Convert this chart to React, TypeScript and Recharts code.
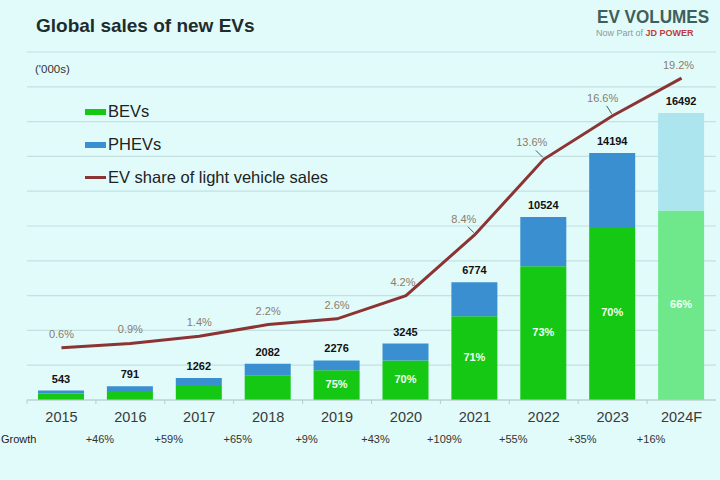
import React from 'react';
import {
  ComposedChart, Bar, Line, XAxis, YAxis, CartesianGrid, LabelList, Cell,
} from 'recharts';

// Sales in thousands, BEV share of each year's total, EV share of light vehicle sales
const years = ['2015', '2016', '2017', '2018', '2019', '2020', '2021', '2022', '2023', '2024F'];
const totalSales = [543, 791, 1262, 2082, 2276, 3245, 6774, 10524, 14194, 16492];
const bevShare = [70, 66, 68, 68, 75, 70, 71, 73, 70, 66];
const evShare = [0.6, 0.9, 1.4, 2.2, 2.6, 4.2, 8.4, 13.6, 16.6, 19.2];
const growth = ['', '+46%', '+59%', '+65%', '+9%', '+43%', '+109%', '+55%', '+35%', '+16%'];
const leftTicks = [0, 2000, 4000, 6000, 8000, 10000, 12000, 14000, 16000, 18000, 20000];

const FONT = '"Liberation Sans", Arial, sans-serif';
const BG = '#e1fbfb';
const GREEN = '#14c814';
const BLUE = '#3a8fd0';
const GREEN_F = '#6fe88c';
const BLUE_F = '#ade5ef';
const LINE = '#8c3434';

const data = years.map((year, i) => {
  const bev = Math.round((totalSales[i] * bevShare[i]) / 100);
  return {
    year,
    total: totalSales[i],
    bev,
    phev: totalSales[i] - bev,
    share: evShare[i],
    shareLabel: i >= 4 ? `${bevShare[i]}%` : '',
    forecast: year.endsWith('F'),
  };
});

// label placement for the share line (dx, dy from the point, leader line or not)
const shareLabelPos = [
  [0, -13, false], [0, -13, false], [0, -13, false], [0, -13, false], [0, -13, false],
  [-3, -13, false], [-11, -15, true], [-12, -16, true], [-10, -17, true], [-3, -12, false],
];

const YearTick = (props: any) => {
  const { x, y, payload, index } = props;
  const half = payload.offset ?? 34.5;
  return (
    <g>
      <line x1={x - half} x2={x - half} y1={y - 8} y2={y - 4} stroke="#b9cccc" />
      <text x={x} y={y + 14} textAnchor="middle" fontSize={14.5} fill="#3a3a3a" fontFamily={FONT}>
        {payload.value}
      </text>
      {index === 0 && (
        <text x={1} y={y + 35} textAnchor="start" fontSize={11} fill="#222" fontFamily={FONT}>
          Growth
        </text>
      )}
      {growth[index] && (
        <text x={x - half + 4} y={y + 35} textAnchor="middle" fontSize={11} fill="#333" fontFamily={FONT}>
          {growth[index]}
        </text>
      )}
    </g>
  );
};

const ShareLabel = (props: any) => {
  const { x, y, value, index } = props;
  const [dx, dy, leader] = shareLabelPos[index];
  return (
    <g>
      {leader && (
        <line x1={x + dx + 4} y1={y + dy + 7} x2={x - 1} y2={y - 2} stroke="#2e6a68" strokeWidth={1} />
      )}
      <text
        x={x + dx}
        y={y + dy}
        textAnchor="middle"
        dominantBaseline="middle"
        fontSize={11}
        fill="#8a7c6c"
        fontFamily={FONT}
      >
        {`${value}%`}
      </text>
    </g>
  );
};

const BevLabel = (props: any) => {
  const { x, y, width, height, value } = props;
  if (!value) return null;
  return (
    <text
      x={x + width / 2}
      y={y + height / 2}
      textAnchor="middle"
      dominantBaseline="middle"
      fontSize={11}
      fontWeight="bold"
      fill="#f2fff2"
      fontFamily={FONT}
    >
      {value}
    </text>
  );
};

const legendRows = [
  { label: 'BEVs', color: GREEN, h: 6 },
  { label: 'PHEVs', color: BLUE, h: 6 },
  { label: 'EV share of light vehicle sales', color: LINE, h: 2.5 },
];

const ChartLegend = () => (
  <div style={{ position: 'absolute', left: 85, top: 95, fontFamily: FONT }}>
    {legendRows.map((r) => (
      <div key={r.label} style={{ display: 'flex', alignItems: 'center', height: 33, fontSize: 16.5, color: '#222' }}>
        <span style={{ display: 'inline-block', width: 21, height: r.h, background: r.color, marginRight: 2 }} />
        {r.label}
      </div>
    ))}
  </div>
);

export default function App() {
  return (
    <div style={{ position: 'absolute', left: 0, top: 0, width: 720, height: 480, background: BG, overflow: 'hidden' }}>
      <div style={{ position: 'absolute', left: 0, top: 0 }}>
        <ComposedChart
          width={720}
          height={480}
          data={data}
          margin={{ top: 52, right: 4, left: 27, bottom: 0 }}
          barSize={46}
        >
          <CartesianGrid yAxisId="left" vertical={false} stroke="#c4e0e0" strokeWidth={1.2} />
          <XAxis
            dataKey="year"
            axisLine={{ stroke: '#b9cccc' }}
            tickLine={false}
            tick={<YearTick />}
            interval={0}
            height={80}
          />
          <YAxis yAxisId="left" hide domain={[0, 20000]} ticks={leftTicks} />
          <YAxis yAxisId="right" orientation="right" hide domain={[-3, 21]} />
          <Bar yAxisId="left" dataKey="bev" stackId="ev" isAnimationActive={false}>
            {data.map((d) => (
              <Cell key={d.year} fill={d.forecast ? GREEN_F : GREEN} />
            ))}
            <LabelList dataKey="shareLabel" content={<BevLabel />} />
          </Bar>
          <Bar yAxisId="left" dataKey="phev" stackId="ev" isAnimationActive={false}>
            {data.map((d) => (
              <Cell key={d.year} fill={d.forecast ? BLUE_F : BLUE} />
            ))}
            <LabelList
              dataKey="total"
              position="top"
              offset={8}
              fill="#111"
              fontSize={11}
              fontWeight="bold"
              fontFamily={FONT}
            />
          </Bar>
          <Line
            yAxisId="right"
            dataKey="share"
            type="linear"
            stroke={LINE}
            strokeWidth={3}
            dot={false}
            isAnimationActive={false}
          >
            <LabelList dataKey="share" content={<ShareLabel />} />
          </Line>
        </ComposedChart>
      </div>
      <div style={{ position: 'absolute', left: 36, top: 15, fontFamily: FONT, fontWeight: 'bold', fontSize: 19, color: '#1e2c2c' }}>
        Global sales of new EVs
      </div>
      <div style={{ position: 'absolute', left: 35, top: 63, fontFamily: FONT, fontSize: 11.5, color: '#333' }}>
        ('000s)
      </div>
      <div
        style={{
          position: 'absolute', left: 597, top: 6, fontFamily: FONT, fontWeight: 'bold', fontSize: 19,
          color: '#3f5f5b', transform: 'scaleX(0.9)', transformOrigin: 'left top', whiteSpace: 'nowrap',
        }}
      >
        EV VOLUMES
      </div>
      <div style={{ position: 'absolute', left: 596, top: 28, fontFamily: FONT, fontSize: 9, color: '#8a9a98', whiteSpace: 'nowrap' }}>
        Now Part of <span style={{ color: '#c43a3a', fontWeight: 'bold' }}>JD POWER</span>
      </div>
      <ChartLegend />
    </div>
  );
}
